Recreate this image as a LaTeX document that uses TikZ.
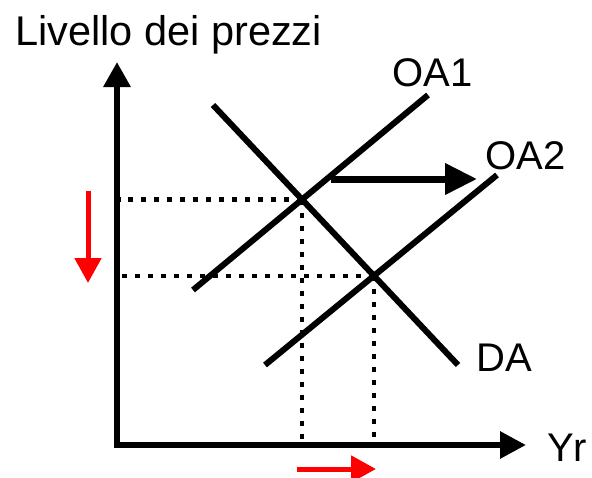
\documentclass[tikz,border=0pt]{standalone}
\usepackage{fontspec}
\setmainfont{Liberation Sans}
\usetikzlibrary{arrows.meta,intersections}
\tikzset{
  axis/.style={line width=6pt, {Triangle[length=25pt,width=26pt]}-{Triangle[length=26pt,width=26pt]}},
  curve/.style={line width=6pt},
  guide/.style={line width=4.5pt, dash pattern=on 5pt off 8pt},
  shiftarrow/.style={line width=7pt, -{Triangle[length=32pt,width=30pt]}},
  movearrow/.style={red, line width=5pt, -{Triangle[length=25pt,width=26pt]}},
  lbl/.style={font=\fontsize{40}{48}\selectfont, inner sep=0pt, anchor=base west}
}
\begin{document}
\begin{tikzpicture}[x=1pt, y=-1pt]
\useasboundingbox (0,0) rectangle (592,477);
% axes
\coordinate (ytop) at (117,62);
\coordinate (xend) at (526,445);
\draw[axis] (ytop) |- (xend);
\node[lbl, font=\fontsize{41.5}{48}\selectfont] (ylab) at (15,45) {Livello dei prezzi};
\node[lbl] (xlab) at (547,461) {Yr};
% supply and demand
\coordinate (oa1a) at (193,290);
\coordinate (oa1b) at (428,95);
\coordinate (oa2a) at (265,365);
\coordinate (oa2b) at (497,175);
\coordinate (daa) at (213,105);
\coordinate (dab) at (458,365);
\draw[curve, name path=oa1] (oa1a) -- (oa1b);
\draw[curve, name path=oa2] (oa2a) -- (oa2b);
\draw[curve, name path=da] (daa) -- (dab);
\node[lbl] (oa1lab) at (392,86) {OA1};
\node[lbl] (oa2lab) at (485,169) {OA2};
\node[lbl] (dalab) at (476,371) {DA};
% equilibria
\path[name intersections={of=oa1 and da, by=e1}];
\path[name intersections={of=oa2 and da, by=e2}];
\draw[guide] (e1) -- (e1 -| 120,0);
\draw[guide] (e2) -- (e2 -| 120,0);
\draw[guide] (e1) -- (e1 |- xend);
\draw[guide] (e2) -- (e2 |- xend);
% shift of supply
\coordinate (sfrom) at (331,179);
\coordinate (sto) at (477,179);
\draw[shiftarrow] (sfrom) -- (sto);
% price and output changes
\coordinate (pfrom) at (88,191);
\coordinate (pto) at (88,283);
\draw[movearrow] (pfrom) -- (pto);
\coordinate (qfrom) at (297,469);
\coordinate (qto) at (376,469);
\draw[movearrow] (qfrom) -- (qto);
\end{tikzpicture}
\end{document}
